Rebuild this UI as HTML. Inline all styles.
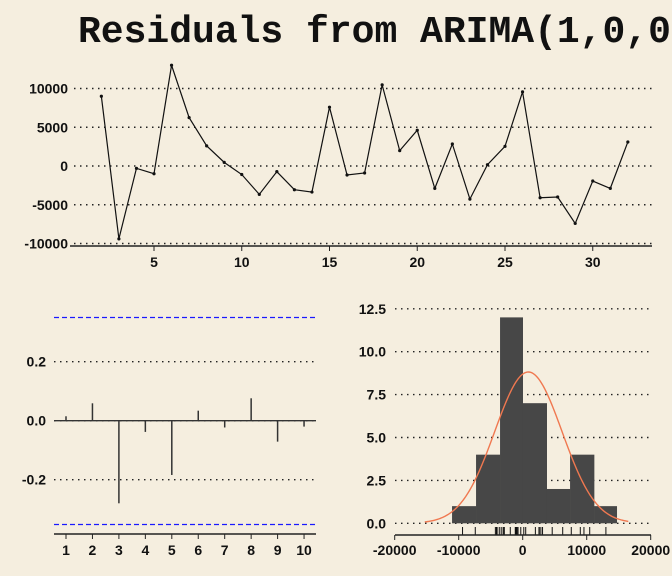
<!DOCTYPE html>
<html><head><meta charset="utf-8"><style>
body{margin:0;background:#f5eedf;}
svg{display:block;font-family:"Liberation Sans",sans-serif;font-weight:bold;}
</style></head><body>
<svg id="c" width="672" height="576" viewBox="0 0 672 576">
<rect width="672" height="576" fill="#f5eedf"/>
<text x="78" y="42" font-family="Liberation Mono,monospace" font-size="38" font-weight="bold" fill="#111">Residuals from ARIMA(1,0,0) with non-zero mean</text>
</svg>
<script>
const resIdx=[2,3,4,5,6,7,8,9,10,11,12,13,14,15,16,17,18,19,20,21,22,23,24,25,26,27,28,29,30,31,32];
const resVals=[9000,-9400,-300,-1000,13000,6250,2600,470,-1100,-3660,-730,-3060,-3360,7590,-1160,-900,10470,1980,4610,-2890,2840,-4270,170,2540,9570,-4100,-4000,-7410,-1940,-2890,3100];
const topYTicks=[-10000,-5000,0,5000,10000];
const topXTicks=[5,10,15,20,25,30];
const acfLags=[1,2,3,4,5,6,7,8,9,10];
const acfVals=[0.015,0.059,-0.28,-0.038,-0.184,0.034,-0.023,0.076,-0.071,-0.02];
const acfYTicks=[-0.2,0,0.2];
const acfBound=[0.35];
const histEdges=[-11040,-7290,-3540,0,3750,7400,11150,14690];
const histCounts=[1,4,12,7,2,4,1];
const histYTicks=[0,2.5,5,7.5,10,12.5];
const histXTicks=[-20000,-10000,0,10000,20000];
const normMean=[885];
const normSd=[5260];

const svg=document.getElementById('c');
const NS='http://www.w3.org/2000/svg';
function mk(t,a,p){const e=document.createElementNS(NS,t);for(const k in a)e.setAttribute(k,a[k]);(p||svg).appendChild(e);return e;}
function txt(x,y,s,anchor,name){const e=mk('text',{x:x,y:y,'font-size':14,'text-anchor':anchor,fill:'#111'});e.textContent=s;

return e;}

// ---- top time plot
const tx=v=>154+(v-5)*17.55, ty=v=>166-v*0.00775;
topYTicks.forEach(v=>{const l=mk('line',{x1:74,x2:652,y1:ty(v),y2:ty(v),stroke:'#222','stroke-dasharray':'1.5 4.5','stroke-width':1.4});


txt(68,ty(v)+5,String(v),'end','top-y-tick-label');});
const ta=mk('line',{x1:70,x2:652,y1:246,y2:246,stroke:'#222','stroke-width':1.5});


topXTicks.forEach(v=>{mk('line',{x1:tx(v),x2:tx(v),y1:246,y2:251,stroke:'#222'});txt(tx(v),267,String(v),'middle','top-x-tick-label');});
const pl=mk('polyline',{points:resIdx.map((d,i)=>tx(d)+','+ty(resVals[i])).join(' '),fill:'none',stroke:'#111','stroke-width':1.2});


resIdx.forEach((d,i)=>{const c=mk('circle',{cx:tx(d),cy:ty(resVals[i]),r:1.6,fill:'#111'});

});

// ---- ACF
const ax=l=>66+(l-1)*26.45, ay=v=>420.7-v*295;
acfYTicks.forEach(v=>{mk('line',{x1:54,x2:316,y1:ay(v),y2:ay(v),stroke:'#222','stroke-dasharray':'1.5 4.5','stroke-width':1.4});
txt(46,ay(v)+5,v.toFixed(1),'end','acf-y-tick-label');});
[acfBound[0],-acfBound[0]].forEach(v=>{const l=mk('line',{x1:54,x2:316,y1:Math.round(ay(v))+0.5,y2:Math.round(ay(v))+0.5,stroke:'#1a1aff','stroke-dasharray':'5 3','stroke-width':1.3});

});
mk('line',{x1:54,x2:316,y1:ay(0),y2:ay(0),stroke:'#333','stroke-width':1.3});
acfLags.forEach((l,i)=>{const b=mk('line',{x1:ax(l),x2:ax(l),y1:ay(0),y2:ay(acfVals[i]),stroke:'#333','stroke-width':1.5});


mk('line',{x1:ax(l),x2:ax(l),y1:534,y2:539,stroke:'#222'});txt(ax(l),555,String(l),'middle','acf-x-tick-label');});
const aa=mk('line',{x1:54,x2:316,y1:534,y2:534,stroke:'#222','stroke-width':1.5});



// ---- histogram
const hx=v=>522.7+v*0.0064, hy=v=>523.3-v*17.16;
histYTicks.forEach(v=>{mk('line',{x1:395,x2:650,y1:hy(v),y2:hy(v),stroke:'#222','stroke-dasharray':'1.5 4.5','stroke-width':1.4});
txt(386,hy(v)+5,v.toFixed(1),'end','hist-y-tick-label');});
histCounts.forEach((c,i)=>{const r=mk('rect',{x:hx(histEdges[i]),y:hy(c),width:hx(histEdges[i+1])-hx(histEdges[i])+0.3,height:hy(0)-hy(c),fill:'#474747'});

});
const bw=histEdges[1]-histEdges[0], n=histCounts.reduce((a,b)=>a+b,0);
let pts=[];for(let x=-15300;x<=16500;x+=200){const z=(x-normMean[0])/normSd[0];pts.push(hx(x)+','+hy(n*bw/(normSd[0]*Math.sqrt(2*Math.PI))*Math.exp(-z*z/2)));}
const nc=mk('polyline',{points:pts.join(' '),fill:'none',stroke:'#f07850','stroke-width':1.4});


resVals.forEach(v=>{const r=mk('line',{x1:hx(v),x2:hx(v),y1:527,y2:535,stroke:'#111','stroke-width':1});

});
const ha=mk('line',{x1:395,x2:651,y1:535,y2:535,stroke:'#222','stroke-width':1.5});


histXTicks.forEach(v=>{mk('line',{x1:hx(v),x2:hx(v),y1:535,y2:540,stroke:'#222'});txt(hx(v),555,String(v),'middle','hist-x-tick-label');});
</script>
</body></html>
